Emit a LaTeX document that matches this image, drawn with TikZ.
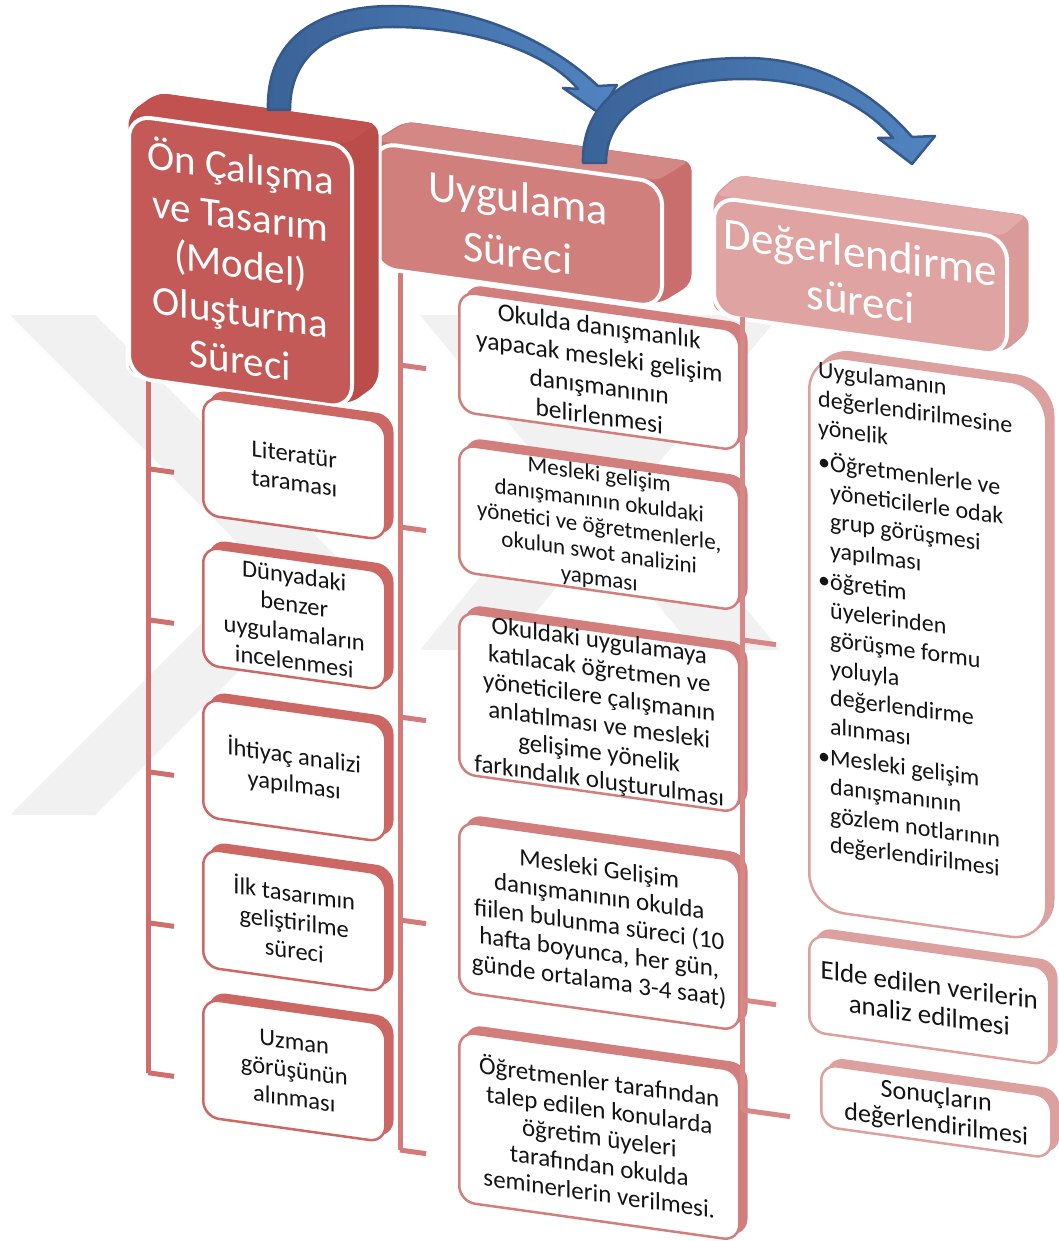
\documentclass[tikz,border=0pt]{standalone}
\usepackage{fontspec}
\setmainfont{Carlito}
\usetikzlibrary{shadows}
\definecolor{hAfront}{HTML}{C45A57}
\definecolor{hAtop}{HTML}{C2524F}
\definecolor{hAside}{HTML}{BA4C49}
\definecolor{hBfront}{HTML}{D17F7D}
\definecolor{hBtop}{HTML}{D48886}
\definecolor{hBside}{HTML}{C96E6C}
\definecolor{hCfront}{HTML}{DFA3A2}
\definecolor{hCtop}{HTML}{E2ABAA}
\definecolor{hCside}{HTML}{D99A99}
\definecolor{colL}{HTML}{CD6764}
\definecolor{colM}{HTML}{D27E7C}
\definecolor{colR}{HTML}{DCA09F}
\definecolor{brL}{HTML}{CF6E6C}
\definecolor{brM}{HTML}{D27B79}
\definecolor{brR}{HTML}{D58886}
\definecolor{arrowdark}{HTML}{35598A}
\definecolor{arrowA}{HTML}{3A6398}
\definecolor{arrowB}{HTML}{5184C0}
\definecolor{wmark}{HTML}{F1F1F1}
\begin{document}
\begin{tikzpicture}[x=1pt,y=-1pt,
  hface/.style={rectangle, rounded corners=22pt, draw=white, line width=4pt,
    fill=#1, text=white, align=center, inner sep=0pt, anchor=north west},
  sbox/.style={rectangle, rounded corners=16pt, fill=white, draw=#1,
    line width=2.5pt, anchor=north west, align=center, inner sep=0pt,
    text=black!92,
    copy shadow={shadow xshift=7pt, shadow yshift=6pt, fill=#1, draw=#1}},
  bracket/.style={line width=5pt, draw=#1},
  fL/.style={font=\fontsize{24.5}{28.5}\selectfont},
  fM/.style={font=\fontsize{25}{28}\selectfont},
  bigarrow/.style={left color=arrowA, right color=arrowB, draw=arrowdark,
    line width=2.5pt, line join=round}
]
\useasboundingbox (0,0) rectangle (1059,1241);

% faint watermark
\fill[wmark] (10,315) -- (95,315) -- (345,565) -- (95,815) -- (10,815) -- (260,565) -- cycle;
\fill[wmark] (420,315) -- (505,315) -- (780,650) -- (695,650) -- cycle;
\fill[wmark] (695,315) -- (780,315) -- (505,650) -- (420,650) -- cycle;

\begin{scope}[yslant=-0.14, transform shape]
  % left and middle brackets
  \coordinate (lTop) at (148,340);
  \coordinate (lBot) at (148,1052);
  \draw[bracket=brL] (lTop) -- (lBot);
  \foreach \yy [count=\i] in {448,599,751,902,1052} {
    \coordinate (lt\i) at (148,\yy);
    \draw[bracket=brL] (lt\i) -- ++(26,0);
  }
  \coordinate (mTop) at (400,200);
  \coordinate (mBot) at (400,1094);
  \draw[bracket=brM] (mTop) -- (mBot);
  \foreach \yy [count=\i] in {309,471,661,864,1094} {
    \coordinate (mt\i) at (400,\yy);
    \draw[bracket=brM] (mt\i) -- ++(26,0);
  }

  % header C (Değerlendirme)
  \fill[hCside, draw=white, line width=3pt, rounded corners=10pt]
    (712,95) -- (737,70) -- (1030,70) -- (1030,188) -- (1005,213) -- (712,213) -- cycle;
  \fill[hCtop, rounded corners=6pt] (716,95) -- (739,72) -- (1026,72) -- (1003,95) -- cycle;
  \node[hface=hCfront, minimum width=293pt, minimum height=118pt,
        font=\fontsize{45}{48}\selectfont] (hC) at (712,95) {Değerlendirme\\süreci};

  % header B (Uygulama)
  \fill[hBside, draw=white, line width=3pt, rounded corners=10pt]
    (372,88) -- (405,63) -- (693,63) -- (693,188) -- (660,213) -- (372,213) -- cycle;
  \fill[hBtop, rounded corners=6pt] (376,88) -- (407,65) -- (689,65) -- (658,88) -- cycle;
  \node[hface=hBfront, minimum width=288pt, minimum height=125pt,
        font=\fontsize{44}{55}\selectfont] (hB) at (372,88) {Uygulama\\Süreci};

  % header A (Ön Çalışma)
  \fill[hAside, draw=white, line width=3pt, rounded corners=12pt]
    (127,95) -- (157,69) -- (380,69) -- (380,331) -- (350,357) -- (127,357) -- cycle;
  \fill[hAtop, rounded corners=6pt] (131,95) -- (159,71) -- (376,71) -- (348,95) -- cycle;
  \node[hface=hAfront, minimum width=223pt, minimum height=262pt,
        font=\fontsize{41}{48}\selectfont] (hA) at (127,95)
        {Ön Çalışma\\ve Tasarım\\(Model)\\Oluşturma\\Süreci};

  % left column boxes
  \node[sbox=colL, fL, minimum width=182pt, minimum height=118pt] (L1) at (202,367) {Literatür\\taraması};
  \node[sbox=colL, fL, minimum width=182pt, minimum height=118pt] (L2) at (202,517) {Dünyadaki\\benzer\\uygulamaların\\incelenmesi};
  \node[sbox=colL, fL, minimum width=182pt, minimum height=118pt] (L3) at (202,669) {İhtiyaç analizi\\yapılması};
  \node[sbox=colL, fL, minimum width=182pt, minimum height=118pt] (L4) at (202,819) {İlk tasarımın\\geliştirilme\\süreci};
  \node[sbox=colL, fL, minimum width=182pt, minimum height=118pt] (L5) at (202,969) {Uzman\\görüşünün\\alınması};

  % middle column boxes
  \node[sbox=colM, font=\fontsize{25.5}{30}\selectfont, minimum width=280pt, minimum height=120pt] (M1) at (458,226)
    {Okulda danışmanlık\\yapacak mesleki gelişim\\danışmanının\\belirlenmesi};
  \node[sbox=colM, font=\fontsize{23}{26}\selectfont, minimum width=280pt, minimum height=127pt] (M2) at (458,379)
    {Mesleki gelişim\\danışmanının okuldaki\\yönetici ve öğretmenlerle,\\okulun swot analizini\\yapması};
  \node[sbox=colM, fM, minimum width=280pt, minimum height=162pt] (M3) at (458,546)
    {Okuldaki uygulamaya\\katılacak öğretmen ve\\yöneticilere çalışmanın\\anlatılması ve mesleki\\gelişime yönelik\\farkındalık oluşturulması};
  \node[sbox=colM, fM, minimum width=280pt, minimum height=170pt] (M4) at (458,756)
    {Mesleki Gelişim\\danışmanının okulda\\fiilen bulunma süreci (10\\hafta boyunca, her gün,\\günde ortalama 3-4 saat)};
  \node[sbox=colM, fM, minimum width=280pt, minimum height=170pt] (M5) at (458,966)
    {Öğretmenler tarafından\\talep edilen konularda\\öğretim üyeleri\\tarafından okulda\\seminerlerin verilmesi.};

  % right bracket
  \coordinate (rTop) at (742,213);
  \coordinate (rBot) at (742,1006);
  \draw[bracket=brR] (rTop) -- (rBot);
  \coordinate (rt1) at (742,536);
  \coordinate (rt2) at (742,896);
  \coordinate (rt3) at (742,1006);
  \draw[bracket=brR] (rt1) -- ++(34,0);
  \draw[bracket=brR] (rt2) -- ++(34,0);
  \draw[bracket=brR] (rt3) -- ++(48,0);

  % right column boxes
  \node[sbox=colR, rounded corners=36pt, minimum width=237pt, minimum height=555pt] (R1) at (808,239) {};
  \node[anchor=north west, align=left, inner sep=0pt, text=black!92,
        font=\fontsize{24}{29}\selectfont] (R1text) at (818,246)
    {Uygulamanın\\değerlendirilmesine\\yönelik\\[5pt]%
     •Öğretmenlerle ve\\\phantom{•}yöneticilerle odak\\\phantom{•}grup görüşmesi\\\phantom{•}yapılması\\[2pt]%
     •öğretim\\\phantom{•}üyelerinden\\\phantom{•}görüşme formu\\\phantom{•}yoluyla\\\phantom{•}değerlendirme\\\phantom{•}alınması\\[2pt]%
     •Mesleki gelişim\\\phantom{•}danışmanının\\\phantom{•}gözlem notlarının\\\phantom{•}değerlendirilmesi};
  \node[sbox=colR, font=\fontsize{27}{30}\selectfont, minimum width=240pt, minimum height=97pt] (R2) at (808,820)
    {Elde edilen verilerin\\analiz edilmesi};
  \node[sbox=colR, font=\fontsize{26}{28}\selectfont, minimum width=230pt, minimum height=62pt] (R3) at (820,948)
    {Sonuçların\\değerlendirilmesi};
\end{scope}

% curved arrows
\path[bigarrow] (268,110) .. controls (266,30) and (330,6) .. (392,6)
  .. controls (480,6) and (555,45) .. (598,86) -- (617,85) -- (599,113) -- (563,88) -- (578,89)
  .. controls (545,50) and (470,27) .. (392,27)
  .. controls (330,27) and (290,55) .. (290,110) -- cycle;
\path[bigarrow] (583,163) .. controls (581,85) and (660,58) .. (745,58)
  .. controls (825,58) and (880,100) .. (912,137) -- (935,136) -- (912,164) -- (878,138) -- (893,138)
  .. controls (865,105) and (815,79) .. (745,79)
  .. controls (670,79) and (606,105) .. (606,163) -- cycle;
\end{tikzpicture}
\end{document}
